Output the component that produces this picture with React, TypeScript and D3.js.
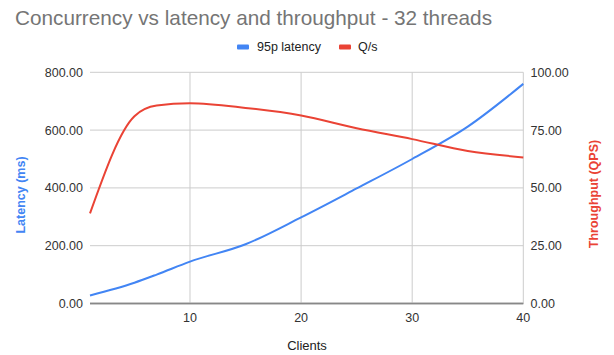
import React from "react";
import * as d3 from "d3";

const W = 614;
const H = 355;

const clients = [1, 5, 7, 10, 15, 20, 25, 30, 35, 40];
const latency95p = [28, 72, 100, 145, 205, 298, 398, 500, 612, 760];
const qps = [39, 81, 85.6, 86.6, 84.6, 81.3, 75.8, 71.1, 66, 63.2];
const leftTicks = [0, 200, 400, 600, 800];
const rightTicks = [0, 25, 50, 75, 100];
const xTicks = [10, 20, 30, 40];

const BLUE = "#4285F4";
const RED = "#EA4335";

export default function App() {
  const x = d3.scaleLinear().domain([1, 40]).range([90, 523.3]);
  const yL = d3.scaleLinear().domain([0, 800]).range([303.5, 72.3]);
  const yR = d3.scaleLinear().domain([0, 100]).range([303.5, 72.3]);

  const latLine = d3
    .line<number>()
    .x((_, i) => x(clients[i]))
    .y((d) => yL(d))
    .curve(d3.curveMonotoneX);
  const qLine = d3
    .line<number>()
    .x((_, i) => x(clients[i]))
    .y((d) => yR(d))
    .curve(d3.curveMonotoneX);

  const font = "'Liberation Sans', Arial, sans-serif";

  return (
    <svg
      width={W}
      height={H}
      style={{ position: "absolute", left: 0, top: 0, background: "#fff" }}
      fontFamily={font}
    >
      <rect width={W} height={H} fill="#fff" />
      <text
        x={15}
        y={24.5}
        fontSize={21}
        fill="#757575"
        textLength={477}
        lengthAdjust="spacingAndGlyphs"
      >
        Concurrency vs latency and throughput - 32 threads
      </text>
      {/* legend */}
      <rect x={237} y={44.5} width={12} height={5} rx={1} fill={BLUE} />
      <text x={257} y={51} fontSize={12.5} fill="#222">95p latency</text>
      <rect x={339} y={44.5} width={12} height={5} rx={1} fill={RED} />
      <text x={358} y={51} fontSize={12.5} fill="#222">Q/s</text>

      {/* horizontal grid */}
      {leftTicks.map((t) => (
        <line
          key={"h" + t}
          x1={90}
          x2={523.3}
          y1={yL(t)}
          y2={yL(t)}
          stroke={t === 0 ? "#888" : "#ccc"}
          strokeWidth={t === 0 ? 1.5 : 1}
        />
      ))}
      {/* vertical grid */}
      {xTicks.map((t) => (
        <line key={"v" + t} x1={x(t)} x2={x(t)} y1={72.3} y2={303.5} stroke="#ccc" strokeWidth={1} />
      ))}
      <line x1={90} x2={523.3} y1={yR(0)} y2={yR(0)} stroke="#888" strokeWidth={1.5} />

      {/* left ticks */}
      {leftTicks.map((t) => (
        <text key={"l" + t} x={83} y={yL(t) + 4.5} fontSize={12.5} fill="#333" textAnchor="end">
          {t.toFixed(2)}
        </text>
      ))}
      {/* right ticks */}
      {rightTicks.map((t) => (
        <text key={"r" + t} x={530.5} y={yR(t) + 4.5} fontSize={12.5} fill="#333" textAnchor="start">
          {t.toFixed(2)}
        </text>
      ))}
      {/* x ticks */}
      {xTicks.map((t) => (
        <text key={"x" + t} x={x(t)} y={322} fontSize={12.5} fill="#333" textAnchor="middle">
          {t}
        </text>
      ))}
      <text x={307} y={350} fontSize={13} fill="#222" textAnchor="middle">
        Clients
      </text>
      <text
        transform={`translate(25,195) rotate(-90)`}
        fontSize={12.5}
        fontWeight="bold"
        fill={BLUE}
        textAnchor="middle"
      >
        Latency (ms)
      </text>
      <text
        transform={`translate(598,194) rotate(-90)`}
        fontSize={12.5}
        fontWeight="bold"
        fill={RED}
        textAnchor="middle"
      >
        Throughput (QPS)
      </text>

      <path d={latLine(latency95p) || ""} fill="none" stroke={BLUE} strokeWidth={2} />
      <path d={qLine(qps) || ""} fill="none" stroke={RED} strokeWidth={2} />
    </svg>
  );
}
